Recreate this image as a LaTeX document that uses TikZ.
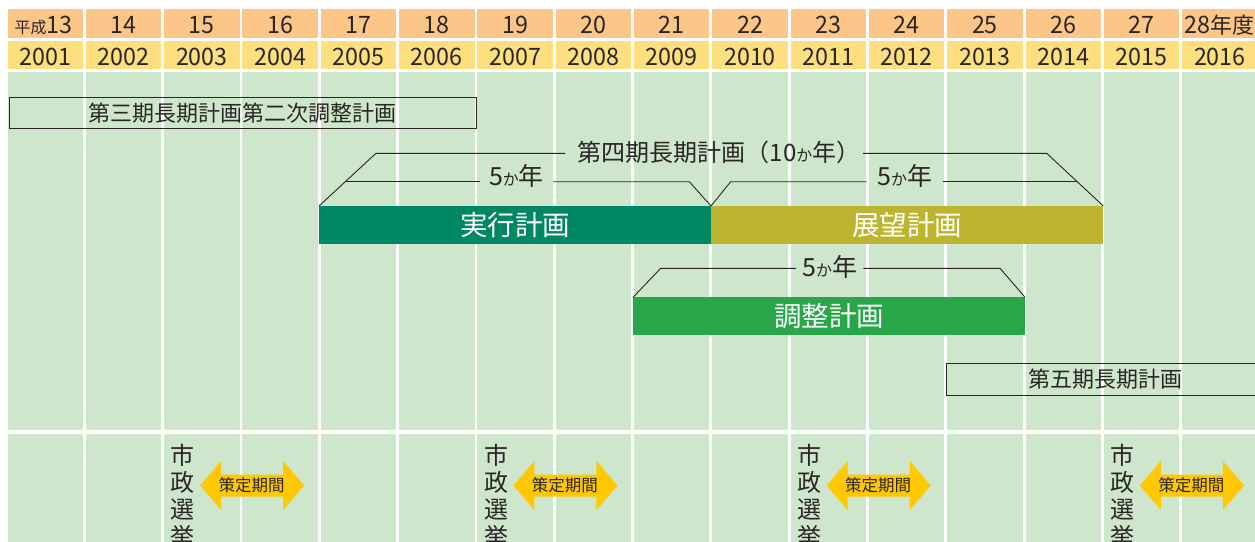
\documentclass[tikz,border=0pt]{standalone}
\usepackage{fontspec}
\setmainfont{Noto Sans CJK JP}
\newfontfamily\numfont[FakeStretch=0.97]{Noto Sans CJK JP}
\definecolor{hdrO}{HTML}{FCC689}
\definecolor{hdrY}{HTML}{FEDF7F}
\definecolor{bodyG}{HTML}{CEE6CB}
\definecolor{barA}{HTML}{008764}
\definecolor{barB}{HTML}{BDB530}
\definecolor{barC}{HTML}{29A54A}
\definecolor{arrowY}{HTML}{FFC800}
\definecolor{ink}{HTML}{2A2626}
\newcommand\smka{{\fontsize{16}{16}\selectfont か}}
\tikzset{
  lbl/.style={text=ink, inner sep=0pt},
  hdrnum/.style={lbl, anchor=base, font=\numfont\fontsize{24}{24}\selectfont},
  barbox/.style={anchor=north west, inner sep=0pt, outer sep=0pt, minimum height=38pt, minimum width=392pt, text=white, font=\fontsize{27.5}{28}\selectfont},
  framebox/.style={draw=ink, line width=1pt, anchor=north west, inner sep=0pt, outer sep=0pt, font=\fontsize{22}{22}\selectfont, text=ink},
  brk/.style={draw=ink, line width=0.9pt},
  spanlbl/.style={lbl, font=\fontsize{25}{25}\selectfont},
}
\begin{document}
\begin{tikzpicture}[x=1pt,y=-1pt]
\useasboundingbox (0,0) rectangle (1255,541);
\clip (0,0) rectangle (1255,541);
\fill[white] (0,0) rectangle (1255,541);
% grid cells
\foreach \i in {0,...,15}{
  \pgfmathsetmacro\xl{7.5+78.31*\i}
  \fill[hdrO] (\xl,9.3) rectangle ++(75.5,29);
  \fill[hdrY] (\xl,40.7) rectangle ++(75.5,28.6);
  \fill[bodyG] (\xl,71.7) rectangle ++(75.5,358.6);
  \fill[bodyG] (\xl,433.6) rectangle ++(75.5,120);
}
% header labels
\foreach \i in {1,...,14}{
  \pgfmathsetmacro\xc{7.5+78.31*\i+37.75}
  \pgfmathtruncatemacro\hs{13+\i}
  \node[hdrnum] (h\i) at (\xc,33.3) {\hs};
}
\foreach \i in {0,...,15}{
  \pgfmathsetmacro\xc{7.5+78.31*\i+37.75}
  \pgfmathtruncatemacro\yr{2001+\i}
  \node[hdrnum] (y\i) at (\xc,65.7) {\yr};
}
\node[hdrnum] (h0) at (43.5,33.3) {{\rmfamily\fontsize{16}{16}\selectfont 平成}13};
\node[hdrnum, anchor=base west] (h15) at (1184.5,33.3) {28{\rmfamily\fontsize{22}{22}\selectfont 年度}};
% plan boxes
\node[framebox, minimum width=466.7pt, minimum height=31pt] (dai3) at (9.3,97.3) {第三期長期計画第二次調整計画\hspace{6pt}};
\node[framebox, minimum width=318pt, minimum height=31.7pt] (dai5) at (946,363.3) {第五期長期計画};
% bars
\node[barbox, fill=barA] (jikko) at (319,206) {実行計画};
\node[barbox, fill=barB, minimum width=392.3pt] (tenbo) at (711,206) {展望計画};
\node[barbox, fill=barC, minimum height=37.7pt] (chosei) at (633,297.3) {調整計画};
% brackets
\node[lbl, font=\fontsize{24}{24}\selectfont] (dai4) at (719,152) {第四期長期計画（10\smka 年）};
\draw[brk] (jikko.north west) -- (376,153.3) -- (565,153.3);
\draw[brk] (863,153.3) -- (1046.7,153.3) -- (tenbo.north east);
\node[spanlbl] (s5a) at (516.5,176) {5\smka 年};
\draw[brk] (345.5,181.7) -- (480,181.7);
\draw[brk] (553,181.7) -- (689.3,181.7) -- (jikko.north east);
\draw[brk] (tenbo.north west) -- (730.7,181.7) -- (866.7,181.7);
\node[spanlbl] (s5b) at (904.7,176) {5\smka 年};
\draw[brk] (942.7,181.7) -- (1077,181.7);
\node[spanlbl] (s5c) at (829.7,266.7) {5\smka 年};
\draw[brk] (chosei.north west) -- (660.7,268.3) -- (796,268.3);
\draw[brk] (863.3,268.3) -- (1000,268.3) -- (chosei.north east);
% elections and drafting periods
\foreach \k/\nm in {2/a,6/b,10/c,14/d}{
  \pgfmathsetmacro\xl{7.5+78.31*\k}
  \node[lbl, anchor=north, align=center, font=\fontsize{24}{27}\selectfont] (el\nm) at (\xl+18.8,444) {市\\政\\選\\挙};
  \fill[arrowY] (\xl+88.1,485.5) ++(-52,0) -- ++(21,-24.5) -- ++(0,13.5) -- ++(62,0) -- ++(0,-13.5) -- ++(21,24.5) -- ++(-21,24.5) -- ++(0,-13.5) -- ++(-62,0) -- ++(0,13.5) -- cycle;
  \node[lbl, font=\fontsize{16.5}{17}\selectfont] (sk\nm) at (\xl+87.5,485) {策定期間};
}
\end{tikzpicture}
\end{document}
